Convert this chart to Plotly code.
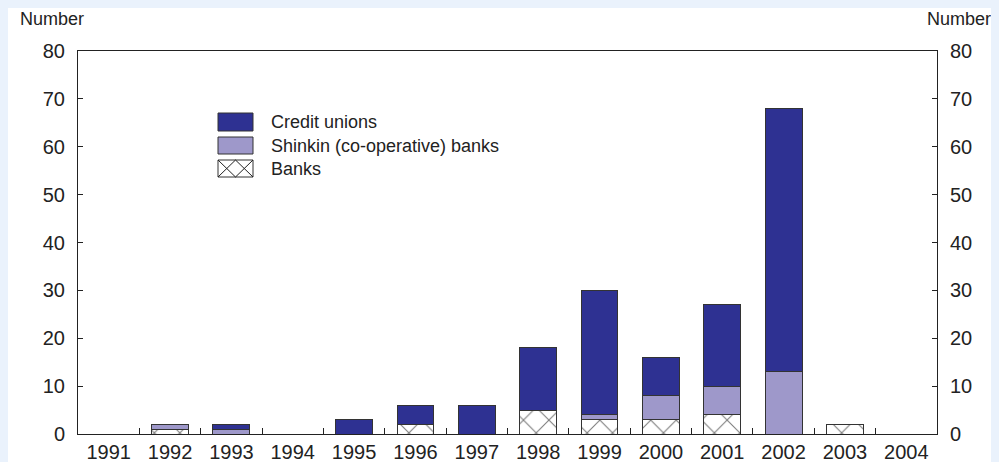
import plotly.graph_objects as go

years = [str(y) for y in range(1991, 2005)]
banks = [0, 1, 0, 0, 0, 2, 0, 5, 3, 3, 4, 0, 2, 0]
shinkin = [0, 1, 1, 0, 0, 0, 0, 0, 1, 5, 6, 13, 0, 0]
credit_unions = [0, 0, 1, 0, 3, 4, 6, 13, 26, 8, 17, 55, 0, 0]

legend_labels = ["Credit unions", "Shinkin (co-operative) banks", "Banks"]
y_ticks = list(range(0, 81, 10))

CU_COLOR = "#2E3192"
SH_COLOR = "#9E98CA"
EDGE = "#333333"
FONT = "Liberation Sans, Arial, sans-serif"
TXT = "#222222"
PAGE_BG = "#EAF2FC"

# figure is placed by the browser at (8, 8) in the page
W, H = 991, 454
L, R, T, B = 70, 62, 43, 28
PW = W - L - R
PH = H - T - B


def px(x):
    return (x - L) / PW


def py(y):
    return (H - B - y) / PH


def nz(v):
    return [None if a == 0 else a for a in v]


fig = go.Figure()
fig.add_bar(x=years, y=nz(banks), name="Banks", showlegend=False,
            marker=dict(color="white", line=dict(color=EDGE, width=1),
                        pattern=dict(shape="x", fgcolor="#000000", bgcolor="white",
                                     size=18, solidity=0.12)))
fig.add_bar(x=years, y=nz(shinkin), name="Shinkin (co-operative) banks", showlegend=False,
            marker=dict(color=SH_COLOR, line=dict(color=EDGE, width=1)))
fig.add_bar(x=years, y=nz(credit_unions), name="Credit unions", showlegend=False,
            marker=dict(color=CU_COLOR, line=dict(color=EDGE, width=1)))
# invisible trace to anchor right axis
fig.add_scatter(x=[years[0]], y=[0], yaxis="y2", mode="markers",
                marker=dict(opacity=0, size=1), showlegend=False, hoverinfo="skip")

shapes = []
annotations = []

# manual legend
leg_rows = [(105, 123, CU_COLOR), (129, 146, SH_COLOR), (152, 169, "white")]
for (y0, y1, col), lab in zip(leg_rows, legend_labels):
    shapes.append(dict(type="rect", xref="paper", yref="paper", x0=px(210), x1=px(245),
                       y0=py(y1), y1=py(y0), fillcolor=col, line=dict(color=EDGE, width=1)))
    annotations.append(dict(text=lab, xref="paper", yref="paper", x=px(261), y=py((y0 + y1) / 2),
                            xanchor="left", yanchor="middle", showarrow=False,
                            font=dict(size=18, color=TXT, family=FONT)))
# cross hatch on banks legend icon
y0, y1 = 152, 169
for a, b in [(210, 227.5), (227.5, 245)]:
    shapes.append(dict(type="line", xref="paper", yref="paper", x0=px(a), x1=px(b),
                       y0=py(y0), y1=py(y1), line=dict(color="#222", width=1)))
    shapes.append(dict(type="line", xref="paper", yref="paper", x0=px(a), x1=px(b),
                       y0=py(y1), y1=py(y0), line=dict(color="#222", width=1)))

annotations.append(dict(text="Number", xref="paper", yref="paper", x=px(10), y=py(11),
                        xanchor="left", yanchor="middle", showarrow=False,
                        font=dict(size=18, color=TXT, family=FONT)))
annotations.append(dict(text="Number", xref="paper", yref="paper", x=px(985), y=py(11),
                        xanchor="right", yanchor="middle", showarrow=False,
                        font=dict(size=18, color=TXT, family=FONT)))

axis_common = dict(range=[0, 80], tickvals=y_ticks, ticks="inside", ticklen=5,
                   tickcolor="#222", showline=True, linecolor="#222", linewidth=1,
                   showgrid=False, zeroline=False, tickfont=dict(size=20, color=TXT, family=FONT),
                   ticklabelstandoff=8, fixedrange=True)

fig.update_layout(
    width=W, height=H,
    margin=dict(l=L, r=R, t=T, b=B, autoexpand=False),
    paper_bgcolor="white",
    plot_bgcolor="white",
    barmode="stack",
    bargap=0.4,
    showlegend=False,
    font=dict(family=FONT, color=TXT),
    xaxis=dict(type="category", categoryorder="array", categoryarray=years,
               range=[-0.5, len(years) - 0.5],
               tickson="boundaries", ticks="inside", ticklen=6, tickcolor="#222",
               showline=True, linecolor="#222", linewidth=1, mirror=True,
               showgrid=False, tickfont=dict(size=20, color=TXT, family=FONT)),
    yaxis=dict(side="left", mirror=True, **axis_common),
    yaxis2=dict(side="right", overlaying="y", **axis_common),
    shapes=shapes,
    annotations=annotations,
)

fig.write_html("out.html",
               post_script="document.body.style.backgroundColor='%s';" % PAGE_BG)
